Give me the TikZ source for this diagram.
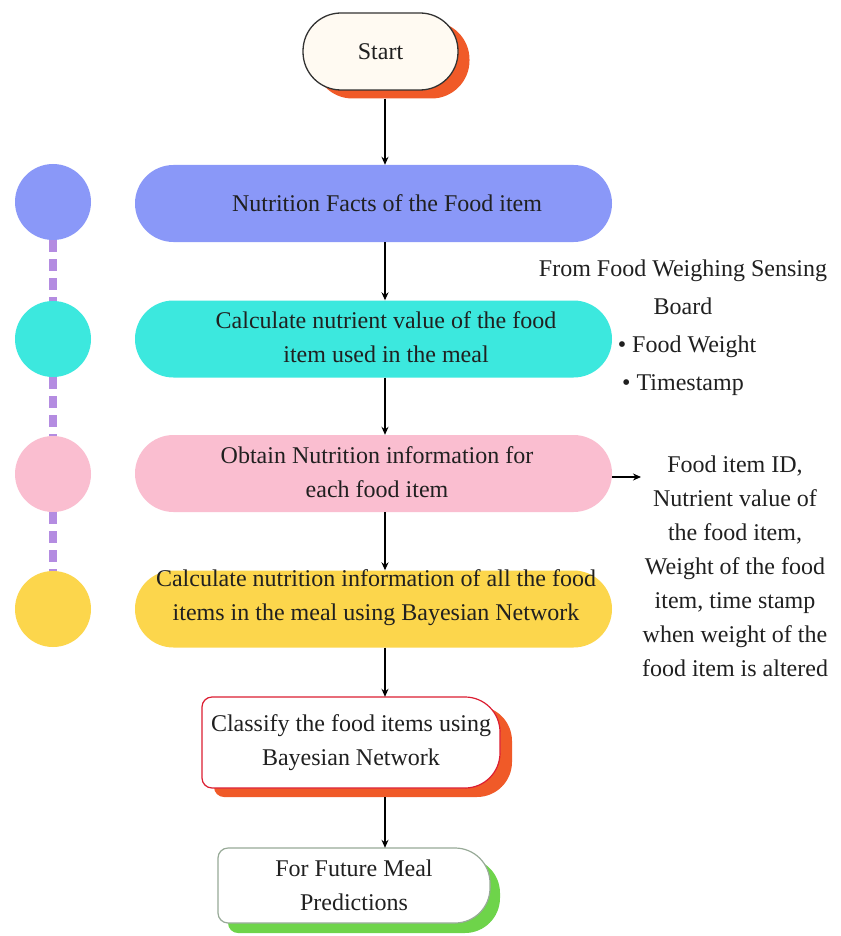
\documentclass[tikz,border=0pt]{standalone}
\usepackage{fontspec}
\setmainfont{Liberation Serif}
\usetikzlibrary{arrows.meta,calc}
\definecolor{txt}{HTML}{202020}
\definecolor{bluebox}{HTML}{8A98F8}
\definecolor{cyanbox}{HTML}{3CE8DE}
\definecolor{pinkbox}{HTML}{FABED0}
\definecolor{yellowbox}{HTML}{FCD64C}
\definecolor{orangesh}{HTML}{F05A28}
\definecolor{greensh}{HTML}{6ED44A}
\definecolor{cream}{HTML}{FFFAF2}
\definecolor{dashpurple}{HTML}{B48CE1}
\definecolor{redborder}{HTML}{DC1E32}
\definecolor{grayborder}{HTML}{98AA98}
\tikzset{
  pill/.style={rounded corners=38.5pt, minimum width=477pt, minimum height=77pt, inner sep=0pt},
  dot/.style={circle, minimum size=76pt, inner sep=0pt},
  lbl/.style={text=txt, align=center, font=\fontsize{24}{34}\selectfont, inner sep=0pt},
  arr/.style={-{Stealth[length=8pt,width=7pt]}, line width=1.3pt, draw=black},
  purpledash/.style={draw=dashpurple, line width=8pt, dash pattern=on 12pt off 7pt},
}
\begin{document}
\begin{tikzpicture}[x=1pt,y=-1pt]
\useasboundingbox (0,0) rectangle (840,936);
\fill[white] (0,0) rectangle (840,936);

% Start
\node[fill=orangesh, rounded corners=38pt, minimum width=155pt, minimum height=77pt] (startsh) at (392,60) {};
\node[draw=black!80, line width=1.3pt, fill=cream, rounded corners=38pt, minimum width=155pt, minimum height=77pt, lbl] (start) at (380.5,51.5) {Start};

\coordinate (ax) at (385,0);

% main boxes
\node[pill, fill=bluebox] (b1) at (373.5,203.5) {};
\node[lbl] (t1) at (387,203) {Nutrition Facts of the Food item};
\node[pill, fill=cyanbox] (b2) at (373.5,339) {};
\node[lbl] (t2) at (386,337) {Calculate nutrient value of the food\\item used in the meal};
\node[pill, fill=pinkbox] (b3) at (373.5,473.5) {};
\node[lbl] (t3) at (377,472) {Obtain Nutrition information for\\each food item};
\node[pill, fill=yellowbox] (b4) at (373.5,609) {};
\node[lbl] (t4) at (376,598) {Calculate nutrition information of all the food\\items in the meal using Bayesian Network};

% Classify
\fill[orangesh] (362,706) [rounded corners=10pt] -- (214,706) -- (214,797) -- (362,797) [rounded corners=35pt] -- (512,797) -- (512,706) -- cycle;
\draw[redborder, line width=1.2pt, fill=white] (351,697) [rounded corners=10pt] -- (202,697) -- (202,788) -- (351,788) [rounded corners=35pt] -- (500,788) -- (500,697) -- cycle;
\node[lbl, minimum width=298pt, minimum height=91pt] (cl) at (351,742.5) {Classify the food items using\\Bayesian Network};

% Future
\fill[greensh] (364,858) [rounded corners=10pt] -- (228,858) -- (228,933) -- (364,933) [rounded corners=35pt] -- (500,933) -- (500,858) -- cycle;
\draw[grayborder, line width=1.2pt, fill=white] (354,848) [rounded corners=10pt] -- (218,848) -- (218,923) -- (354,923) [rounded corners=35pt] -- (490,923) -- (490,848) -- cycle;
\node[lbl, minimum width=272pt, minimum height=75pt] (fu) at (354,885.5) {For Future Meal\\Predictions};

% arrows
\draw[arr] (startsh.south -| ax) -- (b1.north -| ax);
\draw[arr] (b1.south -| ax) -- (b2.north -| ax);
\draw[arr] (b2.south -| ax) -- (b3.north -| ax);
\draw[arr] (b3.south -| ax) -- (b4.north -| ax);
\draw[arr] (b4.south -| ax) -- (cl.north -| ax);
\draw[arr] (cl.south -| ax) ++(0,9) coordinate (clb) (clb) -- (fu.north -| ax);

% left circles
\coordinate (cx) at (53,0);
\node[dot, fill=bluebox] (c1) at (53,202) {};
\node[dot, fill=cyanbox] (c2) at (53,339) {};
\node[dot, fill=pinkbox] (c3) at (53,474) {};
\node[dot, fill=yellowbox] (c4) at (53,609) {};
\draw[purpledash] (c1.south) -- (c2.north);
\draw[purpledash] (c2.south) -- (c3.north);
\draw[purpledash] (c3.south) -- (c4.north);

% right texts
\node[lbl, font=\fontsize{24}{38}\selectfont] (sens) at (683,328) {From Food Weighing Sensing\\Board\\\hspace*{8pt}• Food Weight\\• Timestamp};
\node[lbl] (info) at (735,566) {Food item ID,\\Nutrient value of\\the food item,\\Weight of the food\\item, time stamp\\when weight of the\\food item is altered};
\coordinate (ie) at (641,477);
\draw[arr] (b3.east |- ie) -- (ie);
\end{tikzpicture}
\end{document}
